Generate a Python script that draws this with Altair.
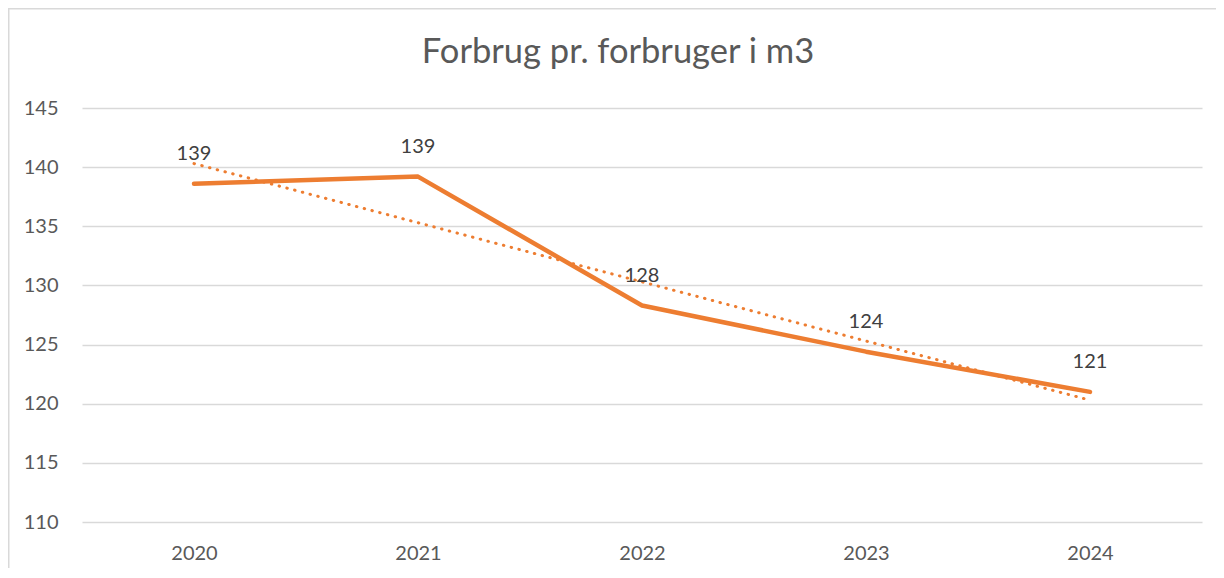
import altair as alt
import pandas as pd

years = [2020, 2021, 2022, 2023, 2024]
values = [138.6, 139.2, 128.3, 124.4, 121.0]
title_text = "Forbrug pr. forbruger i m3"
y_ticks = [110, 115, 120, 125, 130, 135, 140, 145]

df = pd.DataFrame({"year": years, "value": values})
title_df = pd.DataFrame({"t": [title_text]})

ORANGE = "#ED7D31"
GRAY_TXT = "#595959"
GRID = "#D9D9D9"
FONT = "Lato"

W, H = 1120, 414
PL, PT, PR, PB = 74, 100, 14, 46

xenc = alt.X("year:Q", scale=alt.Scale(domain=[2019.5, 2024.5], nice=False, zero=False),
             axis=alt.Axis(values=years, format="d", grid=False, ticks=False, domain=False,
                           labelPadding=21, labelFontSize=20, labelColor=GRAY_TXT,
                           labelFont=FONT, title=None))
yenc = alt.Y("value:Q", scale=alt.Scale(domain=[110, 145], nice=False, zero=False),
             axis=alt.Axis(values=y_ticks, grid=True, gridColor=GRID, gridWidth=1.3,
                           ticks=False, domain=False, labelPadding=24, labelFontSize=20,
                           labelColor=GRAY_TXT, labelFont=FONT, title=None))

base = alt.Chart(df)

trend = base.transform_regression("year", "value").mark_line(
    color=ORANGE, strokeWidth=3, strokeDash=[0.5, 7.5], strokeCap="round"
).encode(x=xenc, y=yenc)

line = base.mark_line(color=ORANGE, strokeWidth=4.5, strokeCap="round", strokeJoin="round").encode(
    x=xenc, y=yenc)

labels = base.mark_text(dy=-30, fontSize=20, color="#404040", font=FONT, baseline="middle").encode(
    x=xenc, y=yenc, text=alt.Text("value:Q", format=".0f"))

title = alt.Chart(title_df).mark_text(fontSize=34.5, font=FONT, color=GRAY_TXT,
                                      baseline="middle", align="center").encode(
    x=alt.value(W / 2 - 24), y=alt.value(-55), text="t:N")

border_left = alt.Chart(title_df).mark_rule(color=GRID, strokeWidth=1.5).encode(
    x=alt.value(-PL + 0.75), y=alt.value(-PT), y2=alt.value(H + PB))
border_top = alt.Chart(title_df).mark_rule(color=GRID, strokeWidth=1.5).encode(
    y=alt.value(-PT + 0.75), x=alt.value(-PL), x2=alt.value(W + PR))

chart = alt.layer(border_left, border_top, trend, line, labels, title).properties(
    width=W, height=H,
    autosize=alt.AutoSizeParams(type="none"),
    padding={"left": PL, "top": PT, "right": PR, "bottom": PB},
).configure_view(stroke=None)

chart.save("out.html", embed_options={"renderer": "svg", "actions": False})
